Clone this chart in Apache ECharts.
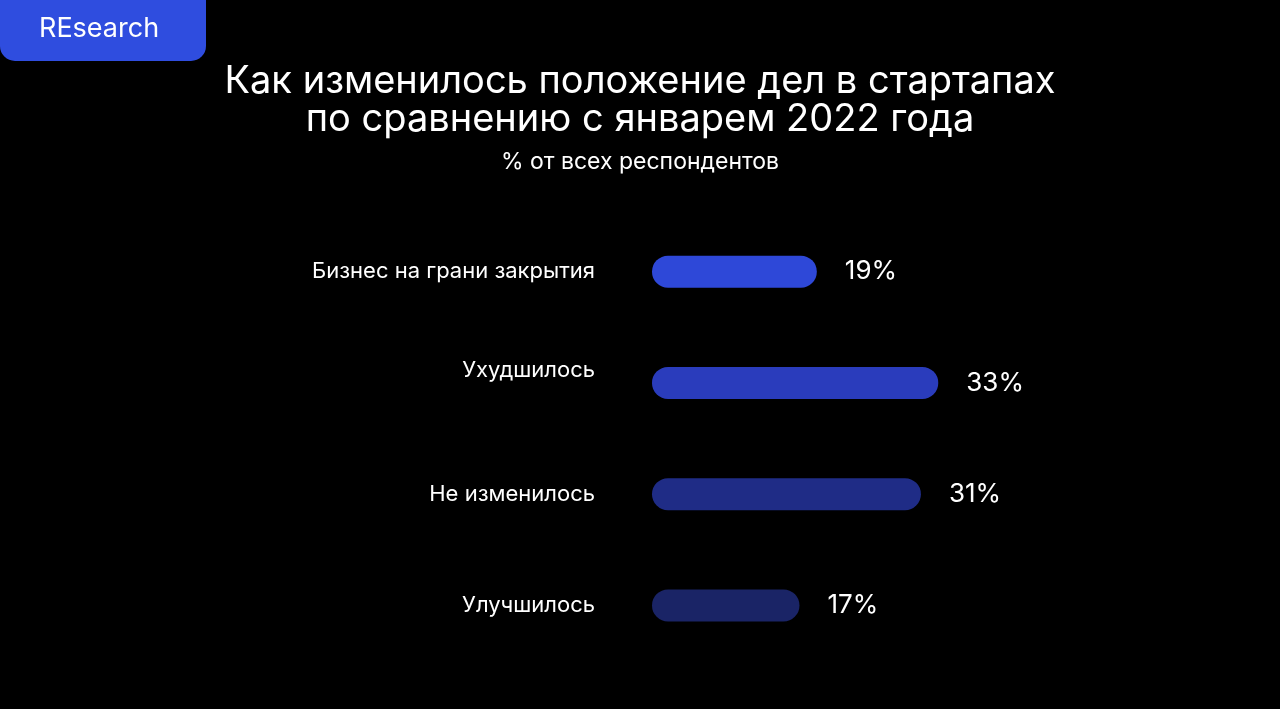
<!DOCTYPE html>
<html>
<head>
<meta charset="utf-8">
<script src="https://cdn.jsdelivr.net/npm/echarts@6/dist/echarts.min.js"></script>
<style>
html,body{margin:0;padding:0;background:#000;}
#chart{width:1280px;height:709px;}
</style>
</head>
<body>
<div id="chart"></div>
<script>
const categories = ['Бизнес на грани закрытия', 'Ухудшилось', 'Не изменилось', 'Улучшилось'];
const values = [19, 33, 31, 17];
const barColors = ['#2e48d8', '#2a3cbc', '#1f2c86', '#1a2466'];
const titleText = 'Как изменилось положение дел в стартапах\nпо сравнению с январем 2022 года';
const subtitleText = '% от всех респондентов';
const badgeText = 'REsearch';

const FONT = 'Inter, "Open Sans", sans-serif';
const chart = echarts.init(document.getElementById('chart'));
chart.setOption({
  backgroundColor: '#000000',
  title: {
    text: titleText,
    subtext: subtitleText,
    left: 'center',
    top: 58,
    itemGap: 12,
    textStyle: { color: '#ffffff', fontFamily: FONT, fontSize: 38, fontWeight: 400, lineHeight: 38 },
    subtextStyle: { color: '#ffffff', fontFamily: FONT, fontSize: 23, fontWeight: 400 }
  },
  graphic: [
    { type: 'rect', shape: { x: 0, y: -20, width: 206, height: 81, r: 15 }, style: { fill: '#2f4ddf' } },
    { type: 'text', left: 39, top: 15, style: { text: badgeText, fill: '#ffffff', font: '400 27px ' + FONT } }
  ],
  grid: { left: 652, right: 281, top: 216, bottom: 48 },
  xAxis: { type: 'value', min: 0, max: 40, show: false },
  yAxis: {
    type: 'category', data: categories, inverse: true,
    axisLine: { show: false }, axisTick: { show: false },
    axisLabel: {
      color: '#ffffff', fontFamily: FONT, fontSize: 22, margin: 57,
      formatter: function (v, i) { return i === 1 ? '{up|' + v + '}' : v; },
      rich: { up: { color: '#ffffff', fontFamily: FONT, fontSize: 22, padding: [0, 0, 24, 0] } }
    }
  },
  series: [{
    type: 'bar',
    barWidth: 32,
    data: values.map((v, i) => ({ value: v, itemStyle: { color: barColors[i] } })),
    itemStyle: { borderRadius: 16 },
    label: {
      show: true, position: 'right', distance: 28,
      formatter: '{c}%', color: '#ffffff', fontFamily: FONT, fontSize: 26
    }
  }]
});
</script>
</body>
</html>
